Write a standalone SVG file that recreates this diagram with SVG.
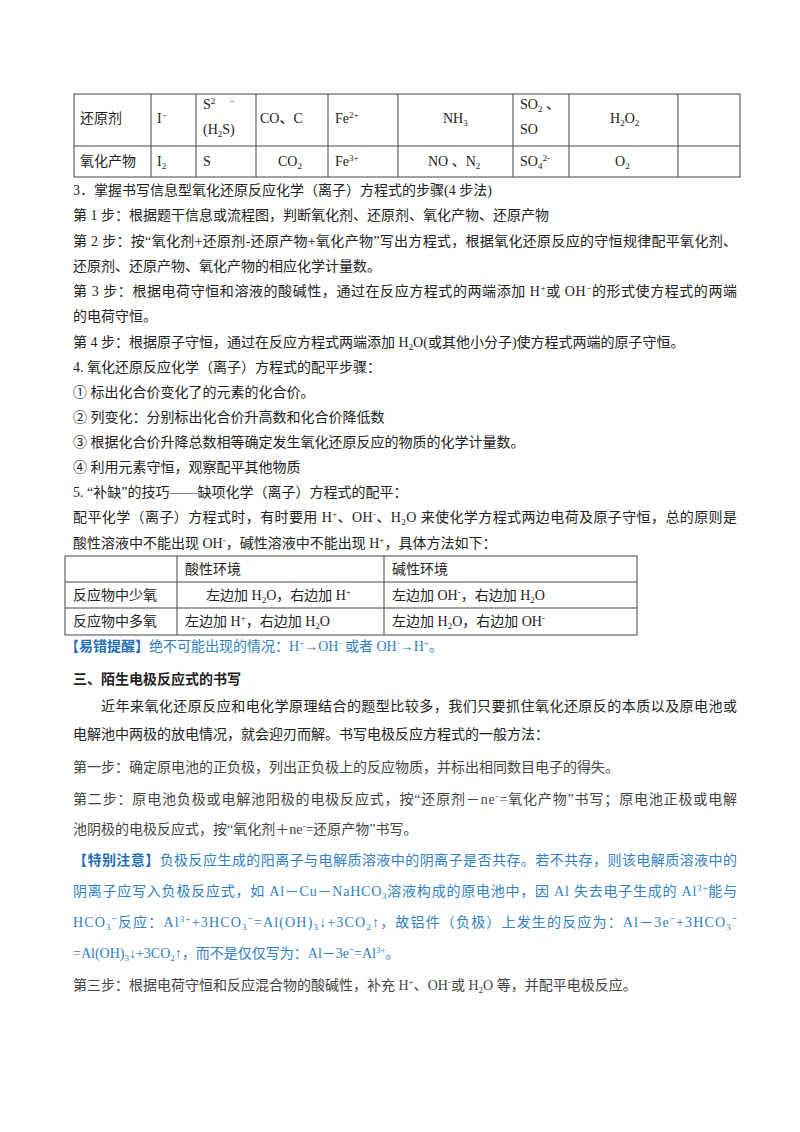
<svg xmlns="http://www.w3.org/2000/svg" width="800" height="1132" viewBox="0 0 800 1132">
<style>
text{font-family:"Liberation Serif","Noto Sans CJK SC",serif;font-size:14px;fill:#222}
.g text,text.g{fill:#444}
.b{fill:#2f7fc1 !important}
.bb{font-weight:bold;fill:#1f6fb5 !important}
.h{font-weight:bold}
.s{font-size:9px}
line{stroke:#444;stroke-width:1}
</style>
<rect width="800" height="1132" fill="#fff"/>
<g id="table1">
<rect x="74" y="94" width="666" height="83" fill="none" stroke="#444"/>
<line x1="74" y1="146" x2="740" y2="146"/>
<line x1="151" y1="94" x2="151" y2="177"/><line x1="196" y1="94" x2="196" y2="177"/>
<line x1="256" y1="94" x2="256" y2="177"/><line x1="328" y1="94" x2="328" y2="177"/>
<line x1="398" y1="94" x2="398" y2="177"/>
<line x1="513" y1="94" x2="513" y2="177"/><line x1="569" y1="94" x2="569" y2="177"/>
<line x1="678" y1="94" x2="678" y2="177"/>
<text x="80" y="123">还原剂</text>
<text x="157" y="123">I<tspan class="s" dy="-5">−</tspan></text>
<text x="203" y="109">S<tspan class="s" dy="-5">2</tspan><tspan class="s" dx="14">−</tspan></text>
<text x="203" y="134">(H<tspan class="s" dy="3">2</tspan><tspan dy="-3">S)</tspan></text>
<text x="260" y="123">CO、C</text>
<text x="335" y="123">Fe<tspan class="s" dy="-5">2+</tspan></text>
<text x="443" y="123">NH<tspan class="s" dy="3">3</tspan></text>
<text x="520" y="109">SO<tspan class="s" dy="3">2</tspan><tspan dy="-3"> 、</tspan></text>
<text x="520" y="134">SO</text>
<text x="610" y="123">H<tspan class="s" dy="3">2</tspan><tspan dy="-3">O</tspan><tspan class="s" dy="3">2</tspan></text>
<text x="80" y="166">氧化产物</text>
<text x="157" y="166">I<tspan class="s" dy="3">2</tspan></text>
<text x="203" y="166">S</text>
<text x="278" y="166">CO<tspan class="s" dy="3">2</tspan></text>
<text x="335" y="166">Fe<tspan class="s" dy="-5">3+</tspan></text>
<text x="428" y="166">NO 、N<tspan class="s" dy="3">2</tspan></text>
<text x="520" y="166">SO<tspan class="s" dy="3">4</tspan><tspan class="s" dy="-8">2-</tspan></text>
<text x="615" y="166">O<tspan class="s" dy="3">2</tspan></text>
</g>
<g id="text1">
<text x="73" y="195">3．掌握书写信息型氧化还原反应化学（离子）方程式的步骤(4 步法)</text>
<text x="73" y="220">第 1 步：根据题干信息或流程图，判断氧化剂、还原剂、氧化产物、还原产物</text>
<text x="73" y="246" textLength="664" lengthAdjust="spacing">第 2 步：按“氧化剂+还原剂-还原产物+氧化产物”写出方程式，根据氧化还原反应的守恒规律配平氧化剂、</text>
<text x="73" y="271">还原剂、还原产物、氧化产物的相应化学计量数。</text>
<text x="73" y="296" textLength="664" lengthAdjust="spacing">第 3 步：根据电荷守恒和溶液的酸碱性，通过在反应方程式的两端添加 H<tspan class="s" dy="-5">+</tspan><tspan dy="5">或 OH</tspan><tspan class="s" dy="-5">−</tspan><tspan dy="5">的形式使方程式的两端</tspan></text>
<text x="73" y="321">的电荷守恒。</text>
<text x="73" y="347">第 4 步：根据原子守恒，通过在反应方程式两端添加 H<tspan class="s" dy="3">2</tspan><tspan dy="-3">O(或其他小分子)使方程式两端的原子守恒。</tspan></text>
<text x="73" y="372">4. 氧化还原反应化学（离子）方程式的配平步骤：</text>
<text x="73" y="397">①  标出化合价变化了的元素的化合价。</text>
<text x="73" y="422">②  列变化：分别标出化合价升高数和化合价降低数</text>
<text x="73" y="447">③  根据化合价升降总数相等确定发生氧化还原反应的物质的化学计量数。</text>
<text x="73" y="472">④  利用元素守恒，观察配平其他物质</text>
<text x="73" y="497">5. “补缺”的技巧——缺项化学（离子）方程式的配平：</text>
<text x="73" y="522" textLength="664" lengthAdjust="spacing">配平化学（离子）方程式时，有时要用 H<tspan class="s" dy="-5">+</tspan><tspan dy="5">、OH</tspan><tspan class="s" dy="-5">-</tspan><tspan dy="5">、H</tspan><tspan class="s" dy="3">2</tspan><tspan dy="-3">O 来使化学方程式两边电荷及原子守恒，总的原则是</tspan></text>
<text x="73" y="548">酸性溶液中不能出现 OH<tspan class="s" dy="-5">-</tspan><tspan dy="5">，碱性溶液中不能出现 H</tspan><tspan class="s" dy="-5">+</tspan><tspan dy="5">，具体方法如下：</tspan></text>
</g>
<g id="table2">
<rect x="65" y="556" width="572" height="79" fill="none" stroke="#444"/>
<line x1="65" y1="582" x2="637" y2="582"/><line x1="65" y1="608" x2="637" y2="608"/>
<line x1="177" y1="556" x2="177" y2="635"/><line x1="384" y1="556" x2="384" y2="635"/>
<text x="185" y="574">酸性环境</text>
<text x="392" y="574">碱性环境</text>
<text x="73" y="600">反应物中少氧</text>
<text x="206" y="600">左边加 H<tspan class="s" dy="3">2</tspan><tspan dy="-3">O，右边加 H</tspan><tspan class="s" dy="-5">+</tspan></text>
<text x="392" y="600">左边加 OH<tspan class="s" dy="-5">-</tspan><tspan dy="5">，右边加 H</tspan><tspan class="s" dy="3">2</tspan><tspan dy="-3">O</tspan></text>
<text x="73" y="626">反应物中多氧</text>
<text x="185" y="626">左边加 H<tspan class="s" dy="-5">+</tspan><tspan dy="5">，右边加 H</tspan><tspan class="s" dy="3">2</tspan><tspan dy="-3">O</tspan></text>
<text x="392" y="626">左边加 H<tspan class="s" dy="3">2</tspan><tspan dy="-3">O，右边加 OH</tspan><tspan class="s" dy="-5">-</tspan></text>
</g>
<g id="text2">
<text x="65" y="651" class="b"><tspan class="bb">【易错提醒】</tspan>绝不可能出现的情况：H<tspan class="s" dy="-5">+</tspan><tspan dy="5">→OH</tspan><tspan class="s" dy="-5">-</tspan><tspan dy="5"> 或者 OH</tspan><tspan class="s" dy="-5">-</tspan><tspan dy="5">→H</tspan><tspan class="s" dy="-5">+</tspan><tspan dy="5">。</tspan></text>
<text x="73" y="684" class="h">三、陌生电极反应式的书写</text>
<text x="101" y="711" textLength="636" lengthAdjust="spacing">近年来氧化还原反应和电化学原理结合的题型比较多，我们只要抓住氧化还原反的本质以及原电池或</text>
<text x="73" y="739">电解池中两极的放电情况，就会迎刃而解。书写电极反应方程式的一般方法：</text>
</g>
<g id="text3" class="g">
<text x="73" y="772">第一步：确定原电池的正负极，列出正负极上的反应物质，并标出相同数目电子的得失。</text>
<text x="73" y="804" textLength="664" lengthAdjust="spacing">第二步：原电池负极或电解池阳极的电极反应式，按“还原剂－ne<tspan class="s" dy="-5">-</tspan><tspan dy="5">=氧化产物”书写；原电池正极或电解</tspan></text>
<text x="73" y="834">池阴极的电极反应式，按“氧化剂＋ne<tspan class="s" dy="-5">-</tspan><tspan dy="5">=还原产物”书写。</tspan></text>
<text x="73" y="865" class="b" textLength="664" lengthAdjust="spacing"><tspan class="bb">【特别注意】</tspan>负极反应生成的阳离子与电解质溶液中的阴离子是否共存。若不共存，则该电解质溶液中的</text>
<text x="73" y="896" class="b" textLength="664" lengthAdjust="spacing">阴离子应写入负极反应式，如 Al－Cu－NaHCO<tspan class="s" dy="3">3</tspan><tspan dy="-3">溶液构成的原电池中，因 Al 失去电子生成的 Al</tspan><tspan class="s" dy="-5">3+</tspan><tspan dy="5">能与</tspan></text>
<text x="73" y="927" class="b" textLength="664" lengthAdjust="spacing">HCO<tspan class="s" dy="3">3</tspan><tspan dy="-3">⁻反应：Al</tspan><tspan class="s" dy="-5">3+</tspan><tspan dy="5">+3HCO</tspan><tspan class="s" dy="3">3</tspan><tspan dy="-3">⁻=Al(OH)</tspan><tspan class="s" dy="3">3</tspan><tspan dy="-3">↓+3CO</tspan><tspan class="s" dy="3">2</tspan><tspan dy="-3">↑，故铝件（负极）上发生的反应为：Al－3e⁻+3HCO</tspan><tspan class="s" dy="3">3</tspan><tspan dy="-3">⁻</tspan></text>
<text x="73" y="958" class="b">=Al(OH)<tspan class="s" dy="3">3</tspan><tspan dy="-3">↓+3CO</tspan><tspan class="s" dy="3">2</tspan><tspan dy="-3">↑，而不是仅仅写为：Al－3e⁻=Al</tspan><tspan class="s" dy="-5">3+</tspan><tspan dy="5">。</tspan></text>
<text x="73" y="990">第三步：根据电荷守恒和反应混合物的酸碱性，补充 H<tspan class="s" dy="-5">+</tspan><tspan dy="5">、OH</tspan><tspan class="s" dy="-5">-</tspan><tspan dy="5">或 H</tspan><tspan class="s" dy="3">2</tspan><tspan dy="-3">O 等，并配平电极反应。</tspan></text>
</g>
</svg>
